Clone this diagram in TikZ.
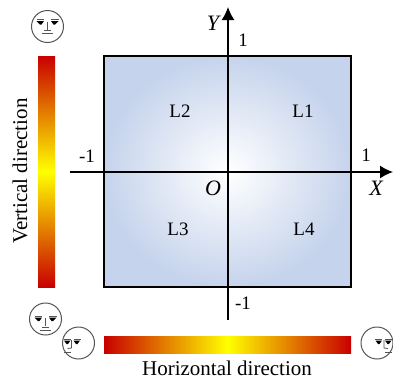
\documentclass[tikz,border=0pt]{standalone}
\usepackage{fontspec}
\setmainfont{Liberation Serif}
\usetikzlibrary{arrows.meta, positioning}
\definecolor{deepred}{RGB}{200, 0, 0}
\definecolor{paleblue}{RGB}{197, 211, 236}
\definecolor{facegray}{RGB}{85, 85, 85}

\tikzset{
    pics/frontmask/.style={code={
        \draw[facegray, line width=1pt, fill=white] (0,0) circle (16);
        \foreach \sx in {-1,1} {
            \draw[facegray, line width=1pt] (\sx*3.5,#1-7) -- (\sx*11,#1-7);
            \fill[black] (\sx*3.5,#1-5.5) -- (\sx*11,#1-5.5) -- (\sx*7.5,#1-2) -- (\sx*6,#1-2) -- cycle;
        }
        \draw[facegray, line width=0.8pt] (0,#1-5) -- (0,#1+3);
        \draw[facegray, line width=0.8pt] (-3.5,#1+4) -- (3.5,#1+4);
        \draw[facegray, line width=1pt] (-5.5,#1+7) -- (5.5,#1+7);
    }},
    pics/sidemask/.style={code={
        \draw[facegray, line width=1pt, fill=white] (0,0) circle (16);
        \draw[facegray, line width=1pt] (-15,-4) -- (-8,-4) (-5,-4) -- (2,-4);
        \fill[black] (-14.5,-2.5) -- (-8,-2.5) -- (-10.5,1) -- (-12,1) -- cycle;
        \fill[black] (-5,-2.5) -- (1.5,-2.5) -- (-1,1) -- (-2.5,1) -- cycle;
        \draw[facegray, line width=0.8pt] (-7,-3) -- (-7,5) -- (-11,5.5);
        \draw[facegray, line width=1pt] (-15,9) -- (-7.5,9);
    }}
}

\begin{document}
\begin{tikzpicture}[
    x=1pt, y=-1pt,
    every node/.style={font=\fontsize{19}{21}\selectfont, inner sep=0pt},
    plate/.style={draw=black, line width=2pt, inner color=white, outer color=paleblue, minimum width=247pt, minimum height=231pt},
    vbar/.style={top color=deepred, bottom color=deepred, middle color=yellow, minimum width=17pt, minimum height=231pt},
    hbar/.style={left color=deepred, right color=deepred, middle color=yellow, minimum width=247pt, minimum height=17pt},
    barcap/.style={font=\fontsize{21}{23}\selectfont},
    axislab/.style={font=\fontsize{22}{24}\selectfont\itshape},
    axisarr/.style={-{Latex[length=13pt, width=13pt]}, line width=1.4pt, color=black}
]
\useasboundingbox (0,0) rectangle (393,383);

% Plate and bars
\node[plate] (plate) at (227.5,171.5) {};
\node[vbar] (vb) at (46.5,171.5) {};
\node[hbar] (hb) at (227.5,344.5) {};

% Axes
\coordinate (xs) at (70,172);
\coordinate (xe) at (393,172);
\coordinate (ys) at (228,320);
\coordinate (ye) at (228,7);
\draw[axisarr] (xs) -- (xe);
\draw[axisarr] (ys) -- (ye);

% Axis labels
\node[axislab] (ylab) at (213,23) {Y};
\node[axislab] (xlab) at (376,188) {X};
\node[axislab] (olab) at (213,188) {O};
\node (ytop) at (243,40) {1};
\node (ybot) at (243,303) {-1};
\node (xleft) at (87,156) {-1};
\node (xright) at (366,155) {1};

% Quadrants
\node (l1) at (303,111) {L1};
\node (l2) at (180,111) {L2};
\node (l3) at (178,229) {L3};
\node (l4) at (304,229) {L4};

% Bar captions
\node[barcap, rotate=90] (vcap) at (20,171) {Vertical direction};
\node[barcap] (hcap) at (227,368) {Horizontal direction};

% Faces
\pic at (47.5,26.5) {frontmask=0};
\pic at (45.5,319) {frontmask=4};
\pic at (78.5,343) {sidemask};
\pic[xscale=-1] at (377,343) {sidemask};
\end{tikzpicture}
\end{document}
